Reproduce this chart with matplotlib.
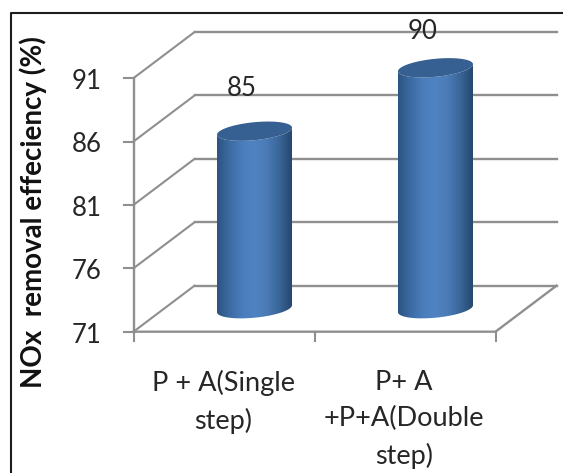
import matplotlib
matplotlib.use("Agg")
import matplotlib.pyplot as plt
import numpy as np
from matplotlib.colors import LinearSegmentedColormap
from matplotlib.patches import PathPatch, Polygon
from matplotlib.path import Path

categories = ["P + A(Single\nstep)", "P+ A\n+P+A(Double\nstep)"]
values = [85, 90]
y_ticks = [71, 76, 81, 86, 91]

W, H = 563, 473
GRID = "#8f8f8f"
TEXT = "#262626"

plt.rcParams["font.family"] = ["Lato", "DejaVu Sans"]

fig = plt.figure(figsize=(W / 100, H / 100), dpi=100)
ax = fig.add_axes([0, 0, 1, 1])

# one category is 181 px wide, five percent is 63.4 px tall
x_per_px = 1 / 181
y_per_px = 5 / 63.4
xlim = (-133.5 * x_per_px, (W - 133.5) * x_per_px)
ylim = (71 - (H - 331.7) * y_per_px, 71 + 331.7 * y_per_px)
ax.set_xlim(xlim)
ax.set_ylim(ylim)
ax.axis("off")

# oblique offset of the back wall
dx = 61 * x_per_px
dy = 46 * y_per_px
n = len(categories)

# frame: left and top edges only, the others run off the canvas
ax.plot([10.5 / W, 10.5 / W, 1], [0, 1 - 13.5 / H, 1 - 13.5 / H], transform=ax.transAxes,
        color="#1c1c1c", lw=1.5, zorder=1)

for v in y_ticks:
    ax.plot([0, dx], [v, v + dy], color=GRID, lw=1.5, zorder=2)
    ax.plot([dx, n + dx], [v + dy, v + dy], color=GRID, lw=1.7, zorder=2)
    ax.plot([-10 * x_per_px, 0], [v, v], color=GRID, lw=1.5, zorder=2)
    ax.text(-32 * x_per_px, v - 3.5 * y_per_px, str(v), ha="right", va="center",
            fontsize=18.5, color=TEXT, zorder=5)

# floor and front axes
ax.plot([0, n, n + dx], [71, 71, 71 + dy], color=GRID, lw=1.7, zorder=2)
ax.plot([0, 0], [71, 91], color=GRID, lw=1.7, zorder=2)
for i in range(n + 1):
    ax.plot([i, i], [71, 71 - 9 * y_per_px], color=GRID, lw=1.5, zorder=2)

side_cmap = LinearSegmentedColormap.from_list(
    "cyl", ["#2c5482", "#3c6ba3", "#4a7dbb", "#5083c2", "#4a7bb6", "#3a6699", "#27476f"])
half_w = 37.5 * x_per_px
half_h = 9 * y_per_px
tilt = 3.5 * y_per_px
t = np.linspace(0, np.pi, 60)

for i, v in enumerate(values):
    cx = i + 0.5 + dx / 2
    base = 71 + dy / 2
    top = v + dy / 2
    lower = np.c_[cx - half_w * np.cos(t), base - half_h * np.sin(t) + tilt * (-np.cos(t))]
    upper = np.c_[cx + half_w * np.cos(t), top - half_h * np.sin(t) + tilt * np.cos(t)]
    body = Path(np.r_[lower, upper, lower[:1]])
    clip = PathPatch(body, fc="none", ec="none", transform=ax.transData)
    ax.add_patch(clip)
    im = ax.imshow(np.linspace(0, 1, 128).reshape(1, -1), cmap=side_cmap, aspect="auto",
                   extent=(cx - half_w, cx + half_w, base - 2 * half_h, top + 2 * half_h),
                   zorder=3, interpolation="bilinear")
    im.set_clip_path(clip)
    a = np.linspace(0, 2 * np.pi, 120)
    cap = np.c_[cx + half_w * np.cos(a), top + half_h * np.sin(a) + tilt * np.cos(a)]
    ax.add_patch(Polygon(cap, closed=True, fc="#366092", ec="none", zorder=4))

# imshow resets the limits
ax.set_xlim(xlim)
ax.set_ylim(ylim)

# value labels sit above and left of each cylinder
label_shift = [(-13, 43), (-13, 36)]
for i, v in enumerate(values):
    sx, sy = label_shift[i]
    ax.text(i + 0.5 + dx / 2 + sx * x_per_px, v + dy / 2 + sy * y_per_px, str(v),
            ha="center", va="center", fontsize=18.5, color=TEXT, zorder=5)

for i, label in enumerate(categories):
    ax.text(i + 0.5 - 1 * x_per_px, 71 - 38 * y_per_px, label, ha="center", va="top",
            fontsize=19.5, color=TEXT, linespacing=1.57, zorder=5)

ax.text(-100.5 * x_per_px, 71 + (331.7 - 212) * y_per_px, "NOx  removal effeciency (%)",
        rotation=90, ha="center", va="center", fontsize=20, fontweight="bold",
        color="#111111", zorder=5)

fig.savefig("out.png", dpi=100)
